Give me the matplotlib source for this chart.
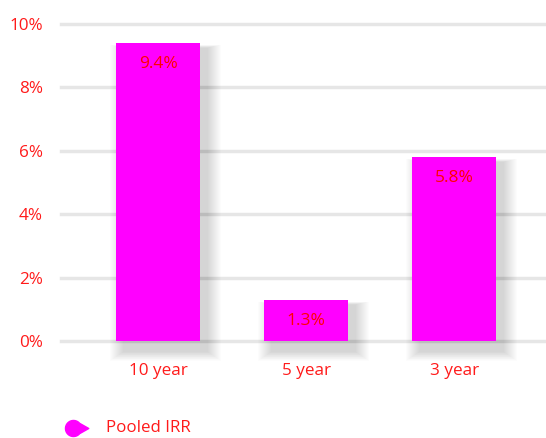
import matplotlib
matplotlib.use("Agg")
import matplotlib.pyplot as plt
from matplotlib.patches import Rectangle
from matplotlib.path import Path
import numpy as np

plt.rcParams['font.family'] = ['Open Sans', 'DejaVu Sans']

categories = ["10 year", "5 year", "3 year"]
irr = [9.4, 1.3, 5.8]
yticks = [0, 2, 4, 6, 8, 10]
series_name = "Pooled IRR"

bar_color = "#ff00ff"
text_color = "#ff1a1a"
grid_color = "#e6e6e6"

W, H = 546, 438
fig = plt.figure(figsize=(W / 100, H / 100), dpi=100)
# plot area: x 61..546, y 24..341 in pixels
ax = fig.add_axes([61 / W, 1 - 341 / H, (546 - 61) / W, (341 - 24) / H])

x = np.arange(len(categories))
width = 0.57
ax.set_xlim(-0.655, 2.62)
ax.set_ylim(0, 10)

for t in yticks:
    ax.axhline(t, color=grid_color, lw=2.5, zorder=0, clip_on=False)

# soft shadow behind the bars
for i, v in enumerate(irr):
    for k in range(14):
        grow = 0.007 * k
        ax.add_patch(Rectangle((x[i] - width / 2 + 0.05 - grow, -0.35 - grow * 3),
                               width + 2 * grow, v + 0.2 + grow * 4,
                               color="#000000", alpha=0.011, lw=0, zorder=1,
                               clip_on=False))

ax.bar(x, irr, width=width, color=bar_color, zorder=2)
for i, v in enumerate(irr):
    ax.annotate(f"{v}%", (x[i], v), xytext=(0, -21), textcoords="offset pixels",
                ha="center", va="center", color="#ff0000", fontsize=12.5, zorder=3)

ax.set_yticks(yticks)
ax.set_yticklabels([f"{t}%" for t in yticks])
ax.set_xticks(x)
ax.set_xticklabels(categories)
ax.tick_params(axis="both", length=0, colors=text_color, labelsize=12.3)
ax.tick_params(axis="y", pad=13)
ax.tick_params(axis="x", pad=16)
for s in ax.spines.values():
    s.set_visible(False)
ax.patch.set_alpha(0)

# legend with teardrop marker
theta = np.linspace(np.deg2rad(40), np.deg2rad(320), 30)
verts = [(np.cos(a), np.sin(a)) for a in theta]
verts = [(1.9, 0.0)] + verts + [(1.9, 0.0)]
drop = Path(verts, closed=True)
fig.lines.append(plt.Line2D([73 / W], [1 - 428 / H], marker=drop, markersize=22,
                            color=bar_color, transform=fig.transFigure))
fig.text(106 / W, 1 - 428 / H, series_name, color=text_color, fontsize=12.2,
         va="center", ha="left")

fig.savefig("out.png", dpi=100)
